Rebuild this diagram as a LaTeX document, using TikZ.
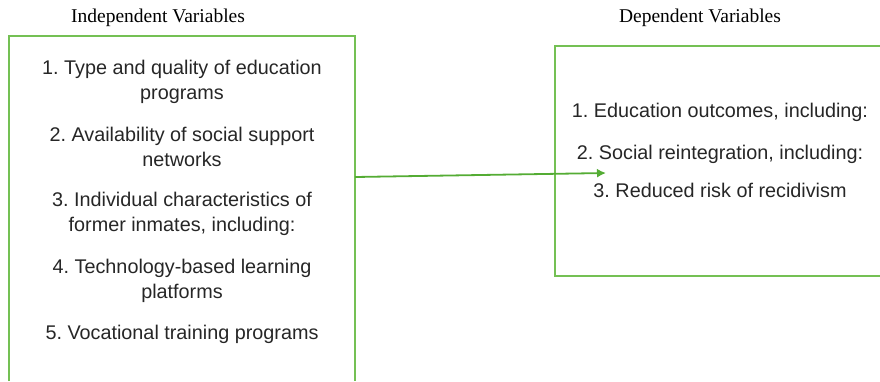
\documentclass[tikz,border=0pt]{standalone}
\usepackage{fontspec}
\setmainfont{Liberation Serif}
\newfontfamily\arialfont{Liberation Sans}
\usepackage{xcolor}
\usepackage{tikz}
\usetikzlibrary{arrows.meta}
\frenchspacing
\definecolor{boxgreen}{RGB}{116,192,84}
\definecolor{arrowgreen}{RGB}{84,172,52}
\tikzstyle{varbox}=[draw=boxgreen, line width=1.3pt]
\tikzstyle{vartitle}=[font=\fontsize{19.5}{22}\selectfont, text=black]
\tikzstyle{varitem}=[font=\arialfont\fontsize{19.8}{25}\selectfont, align=center, text=black!85]
\tikzstyle{dgraph}=[-{Latex[length=9pt,width=9pt]}, draw=arrowgreen, line width=1.8pt]
\begin{document}
\begin{tikzpicture}[x=1pt,y=-1pt]
\useasboundingbox (0,0) rectangle (880,381);
% titles
\node[vartitle] (indep) at (158,18) {Independent Variables};
\node[vartitle] (dep) at (700,18) {Dependent Variables};
% boxes
\draw[varbox] (9,381) -- (9,36) -- (355,36) -- (355,381);
\draw[varbox] (880,46) -- (555,46) -- (555,276) -- (880,276);
\coordinate (L) at (355,177);
\coordinate (R) at (606,173);
% independent variables
\node[varitem] (x1) at (182,82) {1. Type and quality of education\\programs};
\node[varitem] (x2) at (182,147) {2. Availability of social support\\networks};
\node[varitem] (x3) at (182,214) {3. Individual characteristics of\\former inmates, including:};
\node[varitem] (x4) at (182,281) {4. Technology-based learning\\platforms};
\node[varitem] (x5) at (182,334) {5. Vocational training programs};
% dependent variables
\node[varitem] (y1) at (720,112) {1. Education outcomes, including:};
\node[varitem] (y2) at (720,154) {2. Social reintegration, including:};
\node[varitem] (y3) at (720,190) {3. Reduced risk of recidivism};
\draw[dgraph] (L) -- (R);
\end{tikzpicture}
\end{document}
